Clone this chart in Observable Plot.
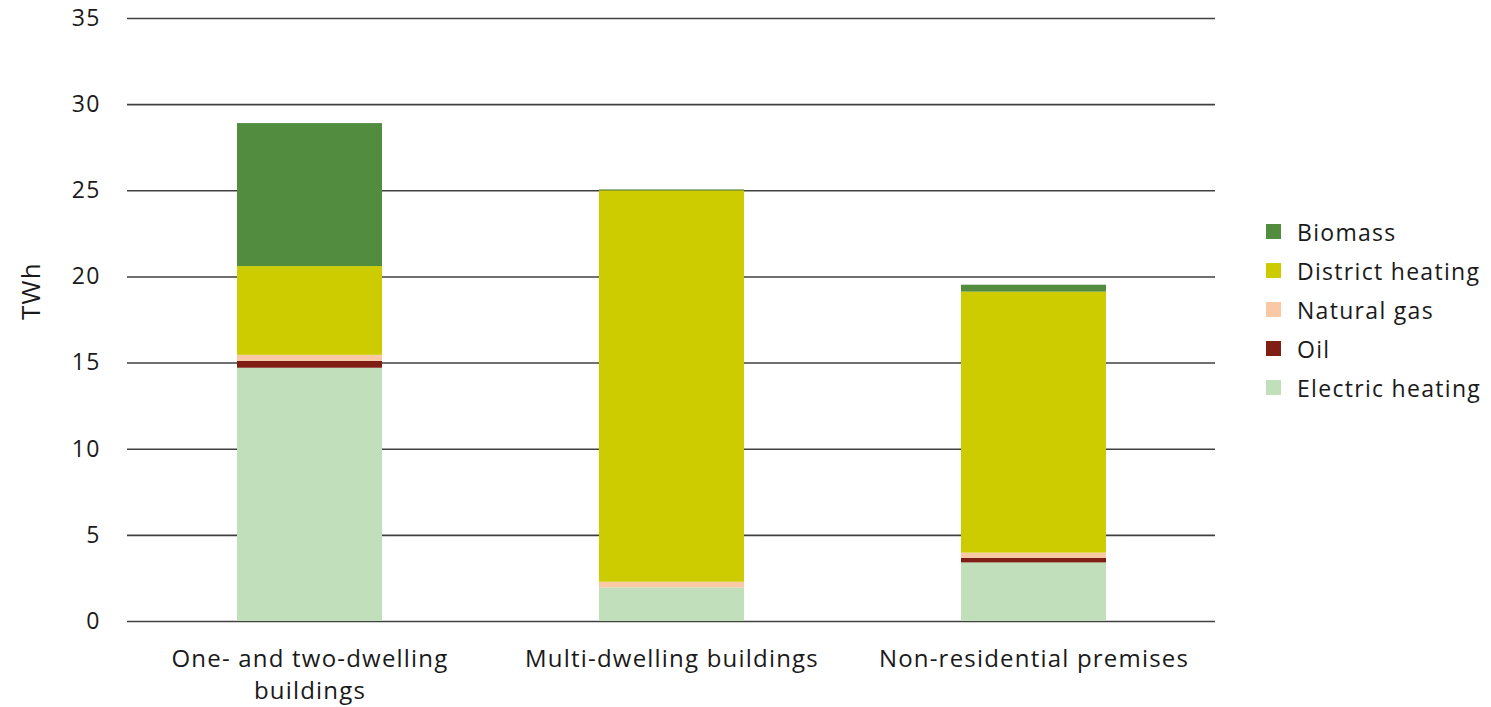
<!DOCTYPE html>
<html><head><meta charset="utf-8">
<script src="https://cdn.jsdelivr.net/npm/d3@7"></script>
<script src="https://cdn.jsdelivr.net/npm/@observablehq/plot@0.6"></script>
<style>
body{margin:0;background:#fff;font-family:"Open Sans",sans-serif;color:#1a1a1a}
#wrap{position:relative;width:1491px;height:707px}
#legend{position:absolute;left:1266px;top:212px}
.item{display:flex;align-items:center;height:39px;font-size:23px;letter-spacing:1.3px;white-space:nowrap}
.sw{width:15px;height:15px;margin-right:16px;flex:none}
</style>
</head><body>
<div id="wrap"><div id="chart"></div><div id="legend"></div></div>
<script>
const categories = ["One- and two-dwelling buildings", "Multi-dwelling buildings", "Non-residential premises"];
const xLabels = ["One- and two-dwelling\nbuildings", "Multi-dwelling buildings", "Non-residential premises"];
const series = ["Electric heating", "Oil", "Natural gas", "District heating", "Biomass"];
const colors = ["#c1dfbb", "#7f1f14", "#f9c9a5", "#cccc00", "#528c3f"];
const electric = [14.7, 1.95, 3.4];
const oil = [0.4, 0, 0.27];
const gas = [0.35, 0.33, 0.3];
const district = [5.15, 22.72, 15.15];
const biomass = [8.3, 0.05, 0.4];
const yTicks = [0, 5, 10, 15, 20, 25, 30, 35];
const legendOrder = ["Biomass", "District heating", "Natural gas", "Oil", "Electric heating"];

const valuesBySeries = [electric, oil, gas, district, biomass];
const rows = [];
series.forEach((s, i) => categories.forEach((c, j) => rows.push({category: c, series: s, value: valuesBySeries[i][j]})));

const chart = Plot.plot({
  width: 1491, height: 707,
  marginLeft: 127, marginRight: 276, marginTop: 18, marginBottom: 86,
  style: {fontFamily: "'Open Sans', sans-serif", color: "#1a1a1a", background: "#fff", letterSpacing: "1.2px"},
  x: {domain: categories, paddingInner: 0.6, paddingOuter: 0.3, label: null, axis: null},
  y: {domain: [0, 35], label: null, axis: null},
  color: {domain: series, range: colors},
  marks: [
    Plot.ruleY(yTicks, {stroke: "#404040", strokeWidth: 1.6}),
    Plot.barY(rows, {x: "category", y: "value", fill: "series"}),
    Plot.axisY({ticks: yTicks, tickSize: 0, tickPadding: 27, fontSize: 23, label: null}),
    Plot.axisX({tickSize: 0, tickPadding: 22, fontSize: 24, lineHeight: 1.35, label: null,
      tickFormat: d => xLabels[categories.indexOf(d)]}),
    Plot.text(["TWh"], {frameAnchor: "left", dx: -96, rotate: -90, fontSize: 26, fill: "#1a1a1a"})
  ]
});
document.getElementById("chart").append(chart);

const leg = document.getElementById("legend");
legendOrder.forEach(s => {
  const d = document.createElement("div"); d.className = "item";
  const sw = document.createElement("span"); sw.className = "sw"; sw.style.background = colors[series.indexOf(s)];
  d.append(sw, document.createTextNode(s)); leg.append(d);
});
</script>
</body></html>
